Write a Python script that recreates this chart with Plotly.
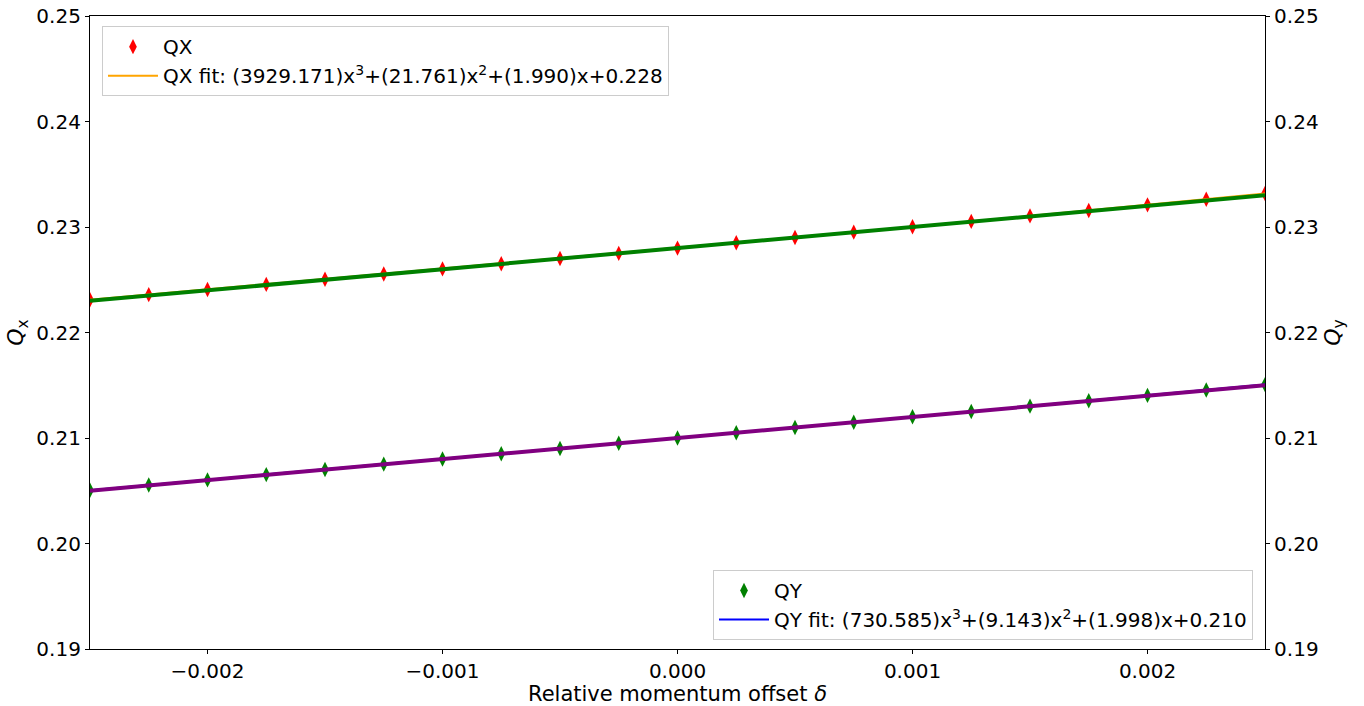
import plotly.graph_objects as go

delta = [-0.0025, -0.00225, -0.002, -0.00175, -0.0015, -0.00125, -0.001, -0.00075, -0.0005, -0.00025,
         0.0, 0.00025, 0.0005, 0.00075, 0.001, 0.00125, 0.0015, 0.00175, 0.002, 0.00225, 0.0025]

qx = [0.22310, 0.22359, 0.22408, 0.22456, 0.22505, 0.22554, 0.22603, 0.22652, 0.22701, 0.22750,
      0.22800, 0.22850, 0.22900, 0.22951, 0.23002, 0.23053, 0.23105, 0.23157, 0.23210, 0.23263, 0.23317]
qy = [0.20505, 0.20554, 0.20603, 0.20653, 0.20702, 0.20752, 0.20801, 0.20851, 0.20900, 0.20950,
      0.21000, 0.21050, 0.21100, 0.21150, 0.21201, 0.21251, 0.21302, 0.21353, 0.21404, 0.21455, 0.21506]

qx_fit = [0.22310, 0.22359, 0.22408, 0.22456, 0.22505, 0.22554, 0.22603, 0.22652, 0.22701, 0.22750,
          0.22800, 0.22850, 0.22900, 0.22951, 0.23002, 0.23053, 0.23105, 0.23157, 0.23210, 0.23263, 0.23317]
qy_fit = [0.20505, 0.20554, 0.20603, 0.20653, 0.20702, 0.20752, 0.20801, 0.20851, 0.20900, 0.20950,
          0.21000, 0.21050, 0.21100, 0.21150, 0.21201, 0.21251, 0.21302, 0.21353, 0.21404, 0.21455, 0.21506]

lin_delta = [-0.0025, 0.0025]
qx_lin = [0.2230, 0.2330]
qy_lin = [0.2050, 0.2150]

x_tickvals = [-0.002, -0.001, 0.0, 0.001, 0.002]
x_ticktext = ["\u22120.002", "\u22120.001", "0.000", "0.001", "0.002"]
y_tickvals = [0.19, 0.20, 0.21, 0.22, 0.23, 0.24, 0.25]
y_ticktext = ["0.19", "0.20", "0.21", "0.22", "0.23", "0.24", "0.25"]

qx_label = "QX fit: (3929.171)x<sup>3</sup>+(21.761)x<sup>2</sup>+(1.990)x+0.228"
qy_label = "QY fit: (730.585)x<sup>3</sup>+(9.143)x<sup>2</sup>+(1.998)x+0.210"

FONT = "DejaVu Sans, Liberation Sans, sans-serif"

fig = go.Figure()
fig.add_trace(go.Scatter(x=delta, y=qx, mode="markers", name="QX",
                         marker=dict(symbol="diamond-tall", color="red", size=11),
                         legend="legend"))
fig.add_trace(go.Scatter(x=delta, y=qx_fit, mode="lines", name=qx_label,
                         line=dict(color="orange", width=2), legend="legend"))
fig.add_trace(go.Scatter(x=delta, y=qy, mode="markers", name="QY",
                         marker=dict(symbol="diamond-tall", color="green", size=11),
                         legend="legend2"))
fig.add_trace(go.Scatter(x=delta, y=qy_fit, mode="lines", name=qy_label,
                         line=dict(color="blue", width=2), legend="legend2"))
fig.add_trace(go.Scatter(x=lin_delta, y=qx_lin, mode="lines", showlegend=False,
                         line=dict(color="green", width=4), yaxis="y2"))
fig.add_trace(go.Scatter(x=lin_delta, y=qy_lin, mode="lines", showlegend=False,
                         line=dict(color="purple", width=4), yaxis="y2"))

axis_common = dict(showgrid=False, zeroline=False, showline=True, linecolor="black", linewidth=1.2,
                   ticks="outside", ticklen=4, tickwidth=1.2, tickcolor="black", automargin=False,
                   tickfont=dict(size=20, color="black", family=FONT))

fig.update_layout(
    width=1364, height=706,
    margin=dict(l=90, r=99, t=16, b=57),
    plot_bgcolor="white", paper_bgcolor="white",
    font=dict(family=FONT, size=20, color="black"),
    xaxis=dict(range=[-0.0025, 0.0025], tickvals=x_tickvals, ticktext=x_ticktext, mirror=True,
               title=dict(text="Relative momentum offset <i>\u03b4</i>", font=dict(size=21), standoff=2),
               **axis_common),
    yaxis=dict(range=[0.19, 0.25], tickvals=y_tickvals, ticktext=y_ticktext,
               title=dict(text="<i>Q</i><sub>x</sub>", font=dict(size=22), standoff=6),
               **axis_common),
    yaxis2=dict(range=[0.19, 0.25], tickvals=y_tickvals, ticktext=y_ticktext, overlaying="y", side="right",
                title=dict(text="<i>Q</i><sub>y</sub>", font=dict(size=22), standoff=6),
                **axis_common),
    legend=dict(x=0.0102, y=0.984, xanchor="left", yanchor="top", itemwidth=50,
                bordercolor="#cccccc", borderwidth=1, bgcolor="rgba(255,255,255,0.8)",
                font=dict(size=20, family=FONT), tracegroupgap=0),
    legend2=dict(x=0.9898, y=0.0142, xanchor="right", yanchor="bottom", itemwidth=50,
                 bordercolor="#cccccc", borderwidth=1, bgcolor="rgba(255,255,255,0.8)",
                 font=dict(size=20, family=FONT), tracegroupgap=0),
)

fig.write_html("out.html", config={"displayModeBar": False},
               post_script="document.body.style.margin='0';document.body.style.padding='0';")
